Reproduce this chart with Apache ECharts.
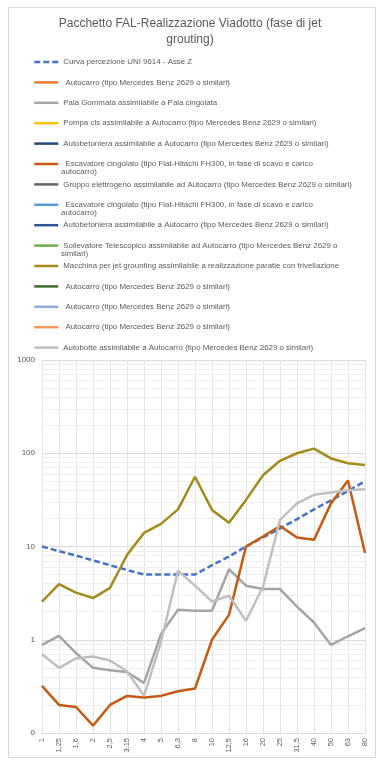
<!DOCTYPE html>
<html>
<head>
<meta charset="utf-8">
<script src="https://cdn.jsdelivr.net/npm/echarts@6/dist/echarts.min.js"></script>
<style>html,body{margin:0;padding:0;background:#fff}#c{width:380px;height:760px}</style>
</head>
<body>
<div id="c"></div>
<script>
const categories = ['1','1,25','1,6','2','2,5','3,15','4','5','6,3','8','10','12,5','16','20','25','31,5','40','50','63','80'];
const yTickLabels = ['0','1','10','100','1000'];

const uniCurve    = [10, 8.9, 8.0, 7.1, 6.3, 5.6, 5.0, 5.0, 5.0, 5.0, 6.3, 7.8, 10, 12.5, 15.6, 19.7, 25, 31.3, 39.4, 50];
const palaGommata = [0.88, 1.1, 0.72, 0.5, 0.47, 0.45, 0.345, 1.15, 2.1, 2.05, 2.05, 5.7, 3.8, 3.5, 3.5, 2.27, 1.53, 0.88, 1.09, 1.33];
const escavatore  = [0.32, 0.20, 0.19, 0.12, 0.20, 0.25, 0.24, 0.25, 0.28, 0.30, 1.0, 1.85, 10, 12.8, 16.6, 12.5, 11.8, 29, 51, 8.5];
const jetGrouting = [2.57, 3.95, 3.2, 2.8, 3.6, 8.1, 14, 17.5, 25, 56, 24.7, 18, 31.6, 58, 83, 100, 112, 88, 78, 75];
const autobotte   = [0.70, 0.50, 0.63, 0.66, 0.60, 0.46, 0.25, 0.95, 5.5, 3.8, 2.57, 2.96, 1.6, 3.7, 19.3, 29, 35.8, 38, 40, 41];

const seriesNames = [
  'Curva percezione UNI 9614 - Asse Z',
  ' Autocarro (tipo Mercedes Benz 2629 o similari)',
  'Pala Gommata assimilabile a Pala cingolata',
  'Pompa cls assimilabile a Autocarro (tipo Mercedes Benz 2629 o similari)',
  'Autobetoniera assimilabile a Autocarro (tipo Mercedes Benz 2629 o similari)',
  ' Escavatore cingolato (tipo Fiat-Hitachi FH300, in fase di scavo e carico autocarro)',
  'Gruppo elettrogeno assimilabile ad Autocarro (tipo Mercedes Benz 2629 o similari)',
  ' Escavatore cingolato (tipo Fiat-Hitachi FH300, in fase di scavo e carico autocarro) ',
  'Autobetoniera assimilabile a Autocarro (tipo Mercedes Benz 2629 o similari) ',
  'Sollevatore Telescopico assimilabile ad Autocarro (tipo Mercedes Benz 2629 o similari)',
  'Macchina per jet grounting assimilabile a realizzazione paratie con trivellazione',
  ' Autocarro (tipo Mercedes Benz 2629 o similari) ',
  ' Autocarro (tipo Mercedes Benz 2629 o similari)  ',
  ' Autocarro (tipo Mercedes Benz 2629 o similari)   ',
  'Autobotte assimilabile a Autocarro (tipo Mercedes Benz 2629 o similari)'
];
const seriesData = [uniCurve, [], palaGommata, [], [], escavatore, [], [], [], [], jetGrouting, [], [], [], autobotte];
const seriesColors = ['#4472C4','#ED7D31','#A5A5A5','#FFC000','#264478','#C55A11','#636363','#5B9BD5','#2F5597','#70AD47','#A38A1B','#43682B','#8FAADC','#F19A5F','#BFBFBF'];
// legend text wrap: second line text (or null)
const secondLines = [null, null, null, null, null, 'autocarro)', null, 'autocarro)', null, 'similari)', null, null, null, null, null];

function firstLine(name) {
  const i = seriesNames.indexOf(name);
  const s = i >= 0 ? secondLines[i] : null;
  if (!s) return name;
  const t = name.replace(/\s+$/, '');
  return t.slice(0, t.length - s.length).replace(/\s+$/, '');
}

const legendTop = 57, rowStep = 20.4, rowH = 10;
const FONT = '"Liberation Sans", Arial, sans-serif';
const TXT = '#595959';
const LEG_FS = 7.9;

const minorLines = [];
[0.1, 1, 10, 100].forEach(d => { for (let k = 2; k <= 9; k++) minorLines.push({ yAxis: +(d * k).toPrecision(3) }); });

const graphics = [{
  type: 'rect', shape: { x: 8.5, y: 7.5, width: 367, height: 750 },
  style: { fill: 'none', stroke: '#d9d9d9', lineWidth: 1 }, silent: true
}];
secondLines.forEach((s, i) => {
  if (s) {
    graphics.push({
      type: 'text', left: 61, top: legendTop + i * rowStep + rowH / 2 + 4,
      style: { text: s, fill: TXT, font: LEG_FS + 'px ' + FONT }, silent: true
    });
  }
});

const series = seriesNames.map((n, i) => {
  const s = {
    name: n, type: 'line', data: seriesData[i], symbol: 'none', smooth: false,
    itemStyle: { color: seriesColors[i] },
    lineStyle: { color: seriesColors[i], width: 2.5, type: i === 0 ? [6, 3] : 'solid' },
    z: 3
  };
  if (i === 0) {
    s.markLine = {
      silent: true, symbol: 'none', z: 1, animation: false,
      label: { show: false },
      lineStyle: { color: '#efefef', width: 1, type: 'solid' },
      emphasis: { disabled: true },
      data: minorLines
    };
  }
  return s;
});

const chart = echarts.init(document.getElementById('c'), null, { renderer: 'canvas' });
chart.setOption({
  animation: false,
  backgroundColor: '#fff',
  textStyle: { fontFamily: FONT },
  title: {
    text: 'Pacchetto FAL-Realizzazione Viadotto (fase di jet\ngrouting)',
    left: 190, top: 16, padding: 0, textAlign: 'center',
    textStyle: { fontSize: 12, fontWeight: 'normal', color: TXT, lineHeight: 16, fontFamily: FONT }
  },
  legend: {
    orient: 'vertical', left: 33, top: legendTop, padding: 0,
    itemWidth: 24, itemHeight: rowH, itemGap: rowStep - rowH,
    data: seriesNames,
    formatter: name => firstLine(name),
    itemStyle: { opacity: 0 },
    lineStyle: { width: 2.5 },
    textStyle: { fontSize: LEG_FS, color: TXT, lineHeight: rowH, fontFamily: FONT },
    selectedMode: false
  },
  grid: { left: 42, right: 15, top: 360, bottom: 27, containLabel: false },
  xAxis: {
    type: 'category', data: categories, boundaryGap: false,
    axisLine: { show: true, lineStyle: { color: '#d9d9d9' } },
    axisTick: { show: false },
    axisLabel: { interval: 0, rotate: 90, fontSize: 7.5, color: TXT, margin: 5, fontFamily: FONT },
    splitLine: { show: true, interval: 0, lineStyle: { color: '#e3e3e3', width: 1 } }
  },
  yAxis: {
    type: 'log', logBase: 10, min: 0.1, max: 1000,
    axisLine: { show: false }, axisTick: { show: false },
    axisLabel: {
      fontSize: 8, color: TXT, margin: 7, fontFamily: FONT,
      formatter: v => yTickLabels[Math.round(Math.log10(v)) + 1]
    },
    splitLine: { show: true, lineStyle: { color: '#d9d9d9', width: 1 } }
  },
  graphic: graphics,
  series: series
});
</script>
</body>
</html>
